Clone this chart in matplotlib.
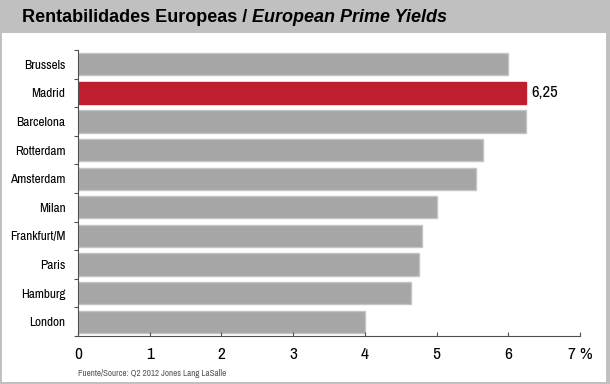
import matplotlib
matplotlib.use("Agg")
import matplotlib.pyplot as plt
from matplotlib.patches import Rectangle

cities = ["Brussels", "Madrid", "Barcelona", "Rotterdam", "Amsterdam",
          "Milan", "Frankfurt/M", "Paris", "Hamburg", "London"]
yields = [6.0, 6.25, 6.25, 5.65, 5.55, 5.0, 4.8, 4.75, 4.65, 4.0]
highlight = "Madrid"
highlight_label = "6,25"
xtick_vals = [0, 1, 2, 3, 4, 5, 6, 7]
xtick_labels = ["0", "1", "2", "3", "4", "5", "6", "7 %"]

narrow = ["Archivo Narrow", "Liberation Sans", "DejaVu Sans"]

W, H = 610, 384
fig = plt.figure(figsize=(W / 100, H / 100), dpi=100)
fig.patch.set_facecolor("#c0c0c0")
# white panel
fig.add_artist(Rectangle((2 / W, 2 / H), (606 - 2) / W, (382 - 33) / H,
                         transform=fig.transFigure, facecolor="white",
                         edgecolor="none", zorder=0))

t1 = fig.text(22 / W, 1 - 17 / H, "Rentabilidades Europeas / ", fontsize=13,
              fontweight="bold", family="Liberation Sans", va="center", ha="left")
fig.canvas.draw()
bb = t1.get_window_extent()
fig.text(bb.x1 / W, 1 - 17 / H, "European Prime Yields", fontsize=13,
         fontweight="bold", style="italic", family="Liberation Sans",
         va="center", ha="left")

ax = fig.add_axes([78 / W, 1 - 336 / H, (580 - 78) / W, (336 - 50) / H])
ypos = list(range(len(cities)))
colors = ["#be1e2d" if c == highlight else "#a6a6a6" for c in cities]
edges = ["#be1e2d" if c == highlight else "#c4c4c4" for c in cities]
ax.barh(ypos, yields, height=0.78, color=colors, edgecolor=edges, linewidth=1.0)
ax.set_ylim(len(cities) - 0.5, -0.5)
ax.set_xlim(0, 7)

hi = cities.index(highlight)
ax.text(yields[hi] + 0.07, hi, highlight_label, va="center", ha="left",
        fontsize=12, family=narrow)

for s in ["top", "right"]:
    ax.spines[s].set_visible(False)
for s in ["left", "bottom"]:
    ax.spines[s].set_color("#505050")
    ax.spines[s].set_linewidth(0.8)

ax.set_yticks([i - 0.5 for i in range(len(cities) + 1)])
ax.set_yticklabels([])
ax.tick_params(axis="y", length=3, color="#505050", width=0.8)
ax.set_yticks(ypos, minor=True)
ax.set_yticklabels(cities, minor=True, fontsize=9.5, family=narrow)
ax.tick_params(axis="y", which="minor", length=0, pad=9)

ax.set_xticks(xtick_vals)
ax.set_xticklabels(xtick_labels, fontsize=12.5, family=narrow)
ax.tick_params(axis="x", length=3, direction="in", color="#505050", width=0.8, pad=8)

fig.text(78 / W, 1 - 374 / H, "Fuente/Source: Q2 2012 Jones Lang LaSalle",
         fontsize=6.5, family=narrow, color="#555555", va="center", ha="left")

fig.savefig("out.png", dpi=100, facecolor=fig.get_facecolor())
